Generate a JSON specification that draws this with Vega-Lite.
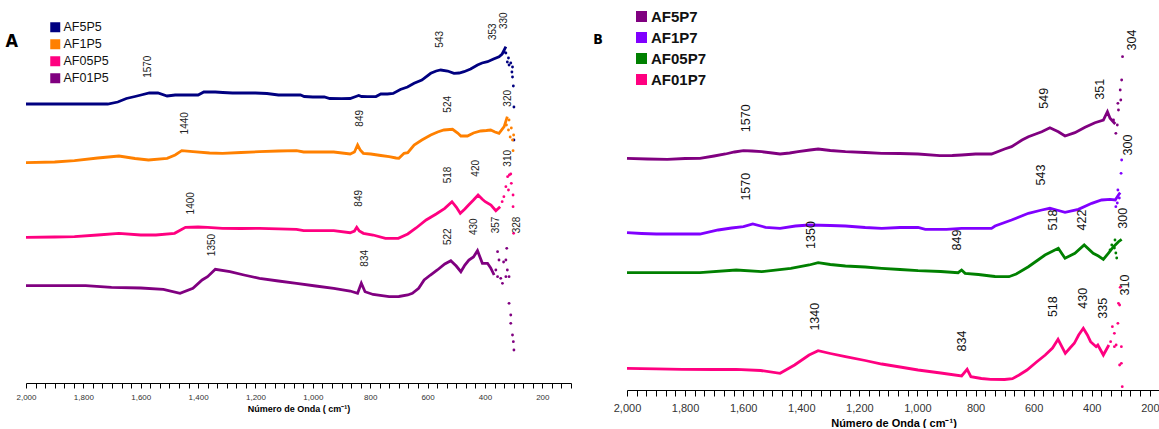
{
  "$schema": "https://vega.github.io/schema/vega-lite/v6.json",
  "padding": {"left": 5, "top": 0, "right": 0, "bottom": 0},
  "spacing": 21,
  "config": {"view": {"stroke": null}, "font": "Liberation Sans"},
  "resolve": {"scale": {"color": "independent", "x": "independent", "y": "independent"}, "legend": {"color": "independent"}},
  "datasets": {
    "A_trace": [
      {"sample":"AF5P5","wn":2000,"abs":279},{"sample":"AF5P5","wn":1900,"abs":279},{"sample":"AF5P5","wn":1800,"abs":279},{"sample":"AF5P5","wn":1715,"abs":279},{"sample":"AF5P5","wn":1680,"abs":281},{"sample":"AF5P5","wn":1650,"abs":284.5},{"sample":"AF5P5","wn":1620,"abs":286.5},{"sample":"AF5P5","wn":1599,"abs":288},{"sample":"AF5P5","wn":1570,"abs":290},{"sample":"AF5P5","wn":1540,"abs":290},{"sample":"AF5P5","wn":1508,"abs":287},{"sample":"AF5P5","wn":1480,"abs":288},{"sample":"AF5P5","wn":1440,"abs":288},{"sample":"AF5P5","wn":1400,"abs":288},{"sample":"AF5P5","wn":1380,"abs":291},{"sample":"AF5P5","wn":1340,"abs":291},{"sample":"AF5P5","wn":1314,"abs":290.5},{"sample":"AF5P5","wn":1280,"abs":290},{"sample":"AF5P5","wn":1240,"abs":290},{"sample":"AF5P5","wn":1200,"abs":290},{"sample":"AF5P5","wn":1160,"abs":289.5},{"sample":"AF5P5","wn":1120,"abs":288},{"sample":"AF5P5","wn":1080,"abs":288},{"sample":"AF5P5","wn":1043,"abs":288},{"sample":"AF5P5","wn":1030,"abs":286.5},{"sample":"AF5P5","wn":1000,"abs":286},{"sample":"AF5P5","wn":960,"abs":286},{"sample":"AF5P5","wn":941,"abs":284.5},{"sample":"AF5P5","wn":900,"abs":284.3},{"sample":"AF5P5","wn":870,"abs":284.5},{"sample":"AF5P5","wn":850,"abs":286.5},{"sample":"AF5P5","wn":840,"abs":287.5},{"sample":"AF5P5","wn":830,"abs":286.5},{"sample":"AF5P5","wn":810,"abs":286.3},{"sample":"AF5P5","wn":780,"abs":286.5},{"sample":"AF5P5","wn":763,"abs":289},{"sample":"AF5P5","wn":740,"abs":289},{"sample":"AF5P5","wn":720,"abs":289.5},{"sample":"AF5P5","wn":695,"abs":293.5},{"sample":"AF5P5","wn":670,"abs":296},{"sample":"AF5P5","wn":647,"abs":299.7},{"sample":"AF5P5","wn":620,"abs":303},{"sample":"AF5P5","wn":589,"abs":309.7},{"sample":"AF5P5","wn":570,"abs":312},{"sample":"AF5P5","wn":554,"abs":313},{"sample":"AF5P5","wn":530,"abs":312},{"sample":"AF5P5","wn":508,"abs":309.7},{"sample":"AF5P5","wn":490,"abs":310},{"sample":"AF5P5","wn":473,"abs":311.3},{"sample":"AF5P5","wn":450,"abs":314},{"sample":"AF5P5","wn":426,"abs":318},{"sample":"AF5P5","wn":410,"abs":320},{"sample":"AF5P5","wn":391,"abs":321.3},{"sample":"AF5P5","wn":370,"abs":324},{"sample":"AF5P5","wn":351,"abs":326.3},{"sample":"AF5P5","wn":340,"abs":329},{"sample":"AF5P5","wn":327,"abs":336.3},
      {"sample":"AF1P5","wn":2000,"abs":220.3},{"sample":"AF1P5","wn":1900,"abs":221},{"sample":"AF1P5","wn":1831,"abs":222.3},{"sample":"AF1P5","wn":1750,"abs":225},{"sample":"AF1P5","wn":1676,"abs":227},{"sample":"AF1P5","wn":1620,"abs":224.5},{"sample":"AF1P5","wn":1573,"abs":223},{"sample":"AF1P5","wn":1508,"abs":224.7},{"sample":"AF1P5","wn":1480,"abs":228},{"sample":"AF1P5","wn":1457,"abs":232.3},{"sample":"AF1P5","wn":1418,"abs":231.3},{"sample":"AF1P5","wn":1360,"abs":230},{"sample":"AF1P5","wn":1315,"abs":229.7},{"sample":"AF1P5","wn":1250,"abs":230.5},{"sample":"AF1P5","wn":1186,"abs":231.3},{"sample":"AF1P5","wn":1120,"abs":232},{"sample":"AF1P5","wn":1057,"abs":232.3},{"sample":"AF1P5","wn":1032,"abs":231},{"sample":"AF1P5","wn":980,"abs":231},{"sample":"AF1P5","wn":927,"abs":231},{"sample":"AF1P5","wn":870,"abs":229},{"sample":"AF1P5","wn":855,"abs":231},{"sample":"AF1P5","wn":844,"abs":238},{"sample":"AF1P5","wn":835,"abs":233},{"sample":"AF1P5","wn":824,"abs":229.7},{"sample":"AF1P5","wn":798,"abs":229},{"sample":"AF1P5","wn":763,"abs":227.5},{"sample":"AF1P5","wn":734,"abs":226.3},{"sample":"AF1P5","wn":710,"abs":225},{"sample":"AF1P5","wn":700,"abs":224.7},{"sample":"AF1P5","wn":682,"abs":229.7},{"sample":"AF1P5","wn":669,"abs":230.3},{"sample":"AF1P5","wn":647,"abs":238},{"sample":"AF1P5","wn":620,"abs":243},{"sample":"AF1P5","wn":589,"abs":248},{"sample":"AF1P5","wn":565,"abs":251},{"sample":"AF1P5","wn":543,"abs":253},{"sample":"AF1P5","wn":513,"abs":253.7},{"sample":"AF1P5","wn":495,"abs":250},{"sample":"AF1P5","wn":484,"abs":247},{"sample":"AF1P5","wn":461,"abs":247},{"sample":"AF1P5","wn":440,"abs":250},{"sample":"AF1P5","wn":415,"abs":252},{"sample":"AF1P5","wn":395,"abs":252.5},{"sample":"AF1P5","wn":380,"abs":253},{"sample":"AF1P5","wn":365,"abs":251},{"sample":"AF1P5","wn":351,"abs":249.7},{"sample":"AF1P5","wn":333,"abs":256.3},{"sample":"AF1P5","wn":322,"abs":266.3},
      {"sample":"AF05P5","wn":2000,"abs":145.7},{"sample":"AF05P5","wn":1900,"abs":146},{"sample":"AF05P5","wn":1831,"abs":146.3},{"sample":"AF05P5","wn":1750,"abs":148},{"sample":"AF05P5","wn":1676,"abs":149.7},{"sample":"AF05P5","wn":1600,"abs":148},{"sample":"AF05P5","wn":1547,"abs":148},{"sample":"AF05P5","wn":1482,"abs":149.7},{"sample":"AF05P5","wn":1444,"abs":155.7},{"sample":"AF05P5","wn":1400,"abs":156},{"sample":"AF05P5","wn":1367,"abs":155.7},{"sample":"AF05P5","wn":1315,"abs":154.7},{"sample":"AF05P5","wn":1250,"abs":154.5},{"sample":"AF05P5","wn":1186,"abs":154.7},{"sample":"AF05P5","wn":1120,"abs":154.2},{"sample":"AF05P5","wn":1057,"abs":153.7},{"sample":"AF05P5","wn":1032,"abs":152.3},{"sample":"AF05P5","wn":980,"abs":152.3},{"sample":"AF05P5","wn":927,"abs":152.3},{"sample":"AF05P5","wn":870,"abs":150.3},{"sample":"AF05P5","wn":855,"abs":152},{"sample":"AF05P5","wn":847,"abs":155.7},{"sample":"AF05P5","wn":838,"abs":152},{"sample":"AF05P5","wn":824,"abs":149.7},{"sample":"AF05P5","wn":790,"abs":148},{"sample":"AF05P5","wn":747,"abs":144.7},{"sample":"AF05P5","wn":702,"abs":144.7},{"sample":"AF05P5","wn":669,"abs":149},{"sample":"AF05P5","wn":640,"abs":155},{"sample":"AF05P5","wn":605,"abs":163},{"sample":"AF05P5","wn":570,"abs":169},{"sample":"AF05P5","wn":540,"abs":174.7},{"sample":"AF05P5","wn":515,"abs":181.3},{"sample":"AF05P5","wn":500,"abs":176},{"sample":"AF05P5","wn":486,"abs":169.7},{"sample":"AF05P5","wn":470,"abs":174},{"sample":"AF05P5","wn":457,"abs":178},{"sample":"AF05P5","wn":440,"abs":183},{"sample":"AF05P5","wn":424,"abs":188},{"sample":"AF05P5","wn":410,"abs":184},{"sample":"AF05P5","wn":399,"abs":181.3},{"sample":"AF05P5","wn":379,"abs":178},{"sample":"AF05P5","wn":362,"abs":172.3},{"sample":"AF05P5","wn":347,"abs":176.3},
      {"sample":"AF01P5","wn":2000,"abs":97.3},{"sample":"AF01P5","wn":1900,"abs":97.3},{"sample":"AF01P5","wn":1792,"abs":97.3},{"sample":"AF01P5","wn":1702,"abs":95.7},{"sample":"AF01P5","wn":1600,"abs":95},{"sample":"AF01P5","wn":1521,"abs":93.7},{"sample":"AF01P5","wn":1463,"abs":89.7},{"sample":"AF01P5","wn":1418,"abs":94.7},{"sample":"AF01P5","wn":1386,"abs":103},{"sample":"AF01P5","wn":1367,"abs":106.3},{"sample":"AF01P5","wn":1340,"abs":113.7},{"sample":"AF01P5","wn":1289,"abs":111.3},{"sample":"AF01P5","wn":1240,"abs":108},{"sample":"AF01P5","wn":1186,"abs":104.7},{"sample":"AF01P5","wn":1120,"abs":102},{"sample":"AF01P5","wn":1057,"abs":99.7},{"sample":"AF01P5","wn":990,"abs":97},{"sample":"AF01P5","wn":927,"abs":94.7},{"sample":"AF01P5","wn":870,"abs":92},{"sample":"AF01P5","wn":844,"abs":89.7},{"sample":"AF01P5","wn":831,"abs":99.7},{"sample":"AF01P5","wn":818,"abs":91.3},{"sample":"AF01P5","wn":790,"abs":88.5},{"sample":"AF01P5","wn":734,"abs":86.3},{"sample":"AF01P5","wn":700,"abs":86.5},{"sample":"AF01P5","wn":669,"abs":88},{"sample":"AF01P5","wn":653,"abs":89.7},{"sample":"AF01P5","wn":631,"abs":94.7},{"sample":"AF01P5","wn":612,"abs":103},{"sample":"AF01P5","wn":590,"abs":108},{"sample":"AF01P5","wn":566,"abs":113},{"sample":"AF01P5","wn":540,"abs":119},{"sample":"AF01P5","wn":519,"abs":122.3},{"sample":"AF01P5","wn":500,"abs":117},{"sample":"AF01P5","wn":484,"abs":111.3},{"sample":"AF01P5","wn":470,"abs":118},{"sample":"AF01P5","wn":456,"abs":123},{"sample":"AF01P5","wn":440,"abs":126},{"sample":"AF01P5","wn":426,"abs":132.3},{"sample":"AF01P5","wn":409,"abs":119.7},{"sample":"AF01P5","wn":391,"abs":119.7},{"sample":"AF01P5","wn":380,"abs":115},{"sample":"AF01P5","wn":368,"abs":108}
    ],
    "A_scatter": [
      {"sample":"AF5P5","wn":333,"abs":331},{"sample":"AF5P5","wn":327,"abs":330},{"sample":"AF5P5","wn":322,"abs":321},{"sample":"AF5P5","wn":318,"abs":325},{"sample":"AF5P5","wn":316,"abs":318},{"sample":"AF5P5","wn":310,"abs":320},{"sample":"AF5P5","wn":306,"abs":311},{"sample":"AF5P5","wn":304,"abs":306},{"sample":"AF5P5","wn":304,"abs":316},{"sample":"AF5P5","wn":301,"abs":297},{"sample":"AF5P5","wn":299,"abs":276},{"sample":"AF5P5","wn":299,"abs":243},
      {"sample":"AF1P5","wn":325,"abs":258},{"sample":"AF1P5","wn":318,"abs":253},{"sample":"AF1P5","wn":316,"abs":263},{"sample":"AF1P5","wn":312,"abs":246},{"sample":"AF1P5","wn":308,"abs":255},{"sample":"AF1P5","wn":304,"abs":243},{"sample":"AF1P5","wn":302,"abs":232.3},{"sample":"AF1P5","wn":300,"abs":248},
      {"sample":"AF05P5","wn":340,"abs":181.3},{"sample":"AF05P5","wn":334,"abs":186.3},{"sample":"AF05P5","wn":327,"abs":196.3},{"sample":"AF05P5","wn":321,"abs":206.3},{"sample":"AF05P5","wn":315,"abs":208},{"sample":"AF05P5","wn":308,"abs":199.7},{"sample":"AF05P5","wn":302,"abs":188},{"sample":"AF05P5","wn":302,"abs":176.3},{"sample":"AF05P5","wn":300,"abs":149.7},{"sample":"AF05P5","wn":318,"abs":193},{"sample":"AF05P5","wn":310,"abs":209},
      {"sample":"AF01P5","wn":362,"abs":113},{"sample":"AF01P5","wn":356,"abs":131.3},{"sample":"AF01P5","wn":351,"abs":123},{"sample":"AF01P5","wn":356,"abs":106.3},{"sample":"AF01P5","wn":345,"abs":104.7},{"sample":"AF01P5","wn":339,"abs":99.7},{"sample":"AF01P5","wn":327,"abs":106.3},{"sample":"AF01P5","wn":327,"abs":123},{"sample":"AF01P5","wn":324,"abs":134.7},{"sample":"AF01P5","wn":322,"abs":113},{"sample":"AF01P5","wn":316,"abs":106.3},{"sample":"AF01P5","wn":316,"abs":79.7},{"sample":"AF01P5","wn":310,"abs":68},{"sample":"AF01P5","wn":310,"abs":59.7},{"sample":"AF01P5","wn":304,"abs":48},{"sample":"AF01P5","wn":301,"abs":41.3},{"sample":"AF01P5","wn":299,"abs":33},{"sample":"AF01P5","wn":335,"abs":121}
    ],
    "A_labels": [
      {"wn":1575,"abs":316.3,"label":"1570"},{"wn":557,"abs":343.7,"label":"543"},{"wn":373,"abs":351.3,"label":"353"},{"wn":334,"abs":362.3,"label":"330"},
      {"wn":1447,"abs":259.7,"label":"1440"},{"wn":837,"abs":264.7,"label":"849"},{"wn":530,"abs":278.7,"label":"524"},{"wn":321,"abs":284.7,"label":"320"},
      {"wn":321,"abs":224.7,"label":"310"},{"wn":528,"abs":208,"label":"518"},{"wn":431,"abs":214.7,"label":"420"},{"wn":1424,"abs":179.7,"label":"1400"},{"wn":840,"abs":184.7,"label":"849"},
      {"wn":530,"abs":146.3,"label":"522"},{"wn":437,"abs":156.3,"label":"430"},{"wn":360,"abs":158,"label":"357"},{"wn":289,"abs":158,"label":"328"},{"wn":1353,"abs":138,"label":"1350"},{"wn":818,"abs":124.7,"label":"834"}
    ],
    "B_trace": [
      {"sample":"AF5P7","wn":2000,"abs":231.7},{"sample":"AF5P7","wn":1930,"abs":231},{"sample":"AF5P7","wn":1861,"abs":230.7},{"sample":"AF5P7","wn":1800,"abs":231.5},{"sample":"AF5P7","wn":1749,"abs":231.7},{"sample":"AF5P7","wn":1700,"abs":234},{"sample":"AF5P7","wn":1661,"abs":236},{"sample":"AF5P7","wn":1630,"abs":238},{"sample":"AF5P7","wn":1599,"abs":239.3},{"sample":"AF5P7","wn":1570,"abs":239},{"sample":"AF5P7","wn":1536,"abs":238.3},{"sample":"AF5P7","wn":1500,"abs":237},{"sample":"AF5P7","wn":1473,"abs":236},{"sample":"AF5P7","wn":1440,"abs":237},{"sample":"AF5P7","wn":1411,"abs":238.3},{"sample":"AF5P7","wn":1370,"abs":240},{"sample":"AF5P7","wn":1342,"abs":241},{"sample":"AF5P7","wn":1300,"abs":239.5},{"sample":"AF5P7","wn":1248,"abs":238.3},{"sample":"AF5P7","wn":1180,"abs":237.5},{"sample":"AF5P7","wn":1123,"abs":236.7},{"sample":"AF5P7","wn":1060,"abs":236.5},{"sample":"AF5P7","wn":998,"abs":236},{"sample":"AF5P7","wn":923,"abs":234.3},{"sample":"AF5P7","wn":880,"abs":234.5},{"sample":"AF5P7","wn":848,"abs":235},{"sample":"AF5P7","wn":800,"abs":236},{"sample":"AF5P7","wn":745,"abs":236},{"sample":"AF5P7","wn":700,"abs":241},{"sample":"AF5P7","wn":676,"abs":243.3},{"sample":"AF5P7","wn":640,"abs":250},{"sample":"AF5P7","wn":618,"abs":253.3},{"sample":"AF5P7","wn":572,"abs":258.3},{"sample":"AF5P7","wn":544,"abs":262.3},{"sample":"AF5P7","wn":515,"abs":258.3},{"sample":"AF5P7","wn":492,"abs":254},{"sample":"AF5P7","wn":458,"abs":257.3},{"sample":"AF5P7","wn":423,"abs":262.7},{"sample":"AF5P7","wn":389,"abs":267.3},{"sample":"AF5P7","wn":360,"abs":270},{"sample":"AF5P7","wn":346,"abs":278.3},{"sample":"AF5P7","wn":337,"abs":271.7},{"sample":"AF5P7","wn":319,"abs":266},
      {"sample":"AF1P7","wn":2000,"abs":157.3},{"sample":"AF1P7","wn":1950,"abs":156.5},{"sample":"AF1P7","wn":1899,"abs":156},{"sample":"AF1P7","wn":1800,"abs":156},{"sample":"AF1P7","wn":1749,"abs":156},{"sample":"AF1P7","wn":1686,"abs":160},{"sample":"AF1P7","wn":1640,"abs":162},{"sample":"AF1P7","wn":1599,"abs":163.3},{"sample":"AF1P7","wn":1567,"abs":166},{"sample":"AF1P7","wn":1523,"abs":162.7},{"sample":"AF1P7","wn":1473,"abs":161.7},{"sample":"AF1P7","wn":1420,"abs":164},{"sample":"AF1P7","wn":1373,"abs":165},{"sample":"AF1P7","wn":1300,"abs":164.5},{"sample":"AF1P7","wn":1248,"abs":164},{"sample":"AF1P7","wn":1180,"abs":162.5},{"sample":"AF1P7","wn":1123,"abs":161.7},{"sample":"AF1P7","wn":1060,"abs":162.5},{"sample":"AF1P7","wn":998,"abs":162.7},{"sample":"AF1P7","wn":973,"abs":160.7},{"sample":"AF1P7","wn":900,"abs":160.7},{"sample":"AF1P7","wn":848,"abs":161.7},{"sample":"AF1P7","wn":800,"abs":161.7},{"sample":"AF1P7","wn":745,"abs":161.7},{"sample":"AF1P7","wn":733,"abs":164},{"sample":"AF1P7","wn":676,"abs":170},{"sample":"AF1P7","wn":618,"abs":176.7},{"sample":"AF1P7","wn":572,"abs":180},{"sample":"AF1P7","wn":544,"abs":181.7},{"sample":"AF1P7","wn":521,"abs":180},{"sample":"AF1P7","wn":492,"abs":177.7},{"sample":"AF1P7","wn":446,"abs":180.7},{"sample":"AF1P7","wn":400,"abs":186.7},{"sample":"AF1P7","wn":366,"abs":190},{"sample":"AF1P7","wn":337,"abs":190.7},{"sample":"AF1P7","wn":319,"abs":190},{"sample":"AF1P7","wn":308,"abs":195},{"sample":"AF1P7","wn":302,"abs":197.3},
      {"sample":"AF05P7","wn":2000,"abs":117.3},{"sample":"AF05P7","wn":1880,"abs":117.3},{"sample":"AF05P7","wn":1749,"abs":117.3},{"sample":"AF05P7","wn":1624,"abs":120},{"sample":"AF05P7","wn":1536,"abs":118.3},{"sample":"AF05P7","wn":1436,"abs":121.7},{"sample":"AF05P7","wn":1373,"abs":125},{"sample":"AF05P7","wn":1342,"abs":127.3},{"sample":"AF05P7","wn":1300,"abs":125.5},{"sample":"AF05P7","wn":1248,"abs":124},{"sample":"AF05P7","wn":1180,"abs":123},{"sample":"AF05P7","wn":1123,"abs":121.7},{"sample":"AF05P7","wn":1060,"abs":120.5},{"sample":"AF05P7","wn":998,"abs":119.3},{"sample":"AF05P7","wn":920,"abs":118.5},{"sample":"AF05P7","wn":860,"abs":117.3},{"sample":"AF05P7","wn":848,"abs":120},{"sample":"AF05P7","wn":836,"abs":116.7},{"sample":"AF05P7","wn":790,"abs":115.5},{"sample":"AF05P7","wn":748,"abs":114},{"sample":"AF05P7","wn":733,"abs":113.5},{"sample":"AF05P7","wn":685,"abs":113.3},{"sample":"AF05P7","wn":660,"abs":116},{"sample":"AF05P7","wn":618,"abs":123.3},{"sample":"AF05P7","wn":590,"abs":129},{"sample":"AF05P7","wn":561,"abs":135},{"sample":"AF05P7","wn":515,"abs":141.7},{"sample":"AF05P7","wn":492,"abs":131.7},{"sample":"AF05P7","wn":458,"abs":136.7},{"sample":"AF05P7","wn":426,"abs":145},{"sample":"AF05P7","wn":395,"abs":136.7},{"sample":"AF05P7","wn":377,"abs":134},{"sample":"AF05P7","wn":360,"abs":130.7},{"sample":"AF05P7","wn":343,"abs":136.7},{"sample":"AF05P7","wn":325,"abs":143.3},{"sample":"AF05P7","wn":308,"abs":148.3},{"sample":"AF05P7","wn":297,"abs":150.7},
      {"sample":"AF01P7","wn":2000,"abs":21.7},{"sample":"AF01P7","wn":1900,"abs":21.2},{"sample":"AF01P7","wn":1811,"abs":20.7},{"sample":"AF01P7","wn":1700,"abs":20.5},{"sample":"AF01P7","wn":1624,"abs":20.7},{"sample":"AF01P7","wn":1540,"abs":19.5},{"sample":"AF01P7","wn":1473,"abs":16.7},{"sample":"AF01P7","wn":1423,"abs":25},{"sample":"AF01P7","wn":1373,"abs":35},{"sample":"AF01P7","wn":1342,"abs":39.3},{"sample":"AF01P7","wn":1300,"abs":36.5},{"sample":"AF01P7","wn":1248,"abs":33.3},{"sample":"AF01P7","wn":1180,"abs":29.5},{"sample":"AF01P7","wn":1123,"abs":26},{"sample":"AF01P7","wn":1060,"abs":23},{"sample":"AF01P7","wn":998,"abs":20},{"sample":"AF01P7","wn":920,"abs":17},{"sample":"AF01P7","wn":848,"abs":14},{"sample":"AF01P7","wn":829,"abs":20.7},{"sample":"AF01P7","wn":816,"abs":13.3},{"sample":"AF01P7","wn":780,"abs":11.5},{"sample":"AF01P7","wn":748,"abs":10.7},{"sample":"AF01P7","wn":700,"abs":10.5},{"sample":"AF01P7","wn":673,"abs":11.3},{"sample":"AF01P7","wn":650,"abs":15},{"sample":"AF01P7","wn":623,"abs":20},{"sample":"AF01P7","wn":590,"abs":28},{"sample":"AF01P7","wn":560,"abs":35},{"sample":"AF01P7","wn":535,"abs":42},{"sample":"AF01P7","wn":516,"abs":50.7},{"sample":"AF01P7","wn":491,"abs":36.7},{"sample":"AF01P7","wn":475,"abs":42},{"sample":"AF01P7","wn":460,"abs":46.7},{"sample":"AF01P7","wn":445,"abs":55},{"sample":"AF01P7","wn":429,"abs":61.7},{"sample":"AF01P7","wn":415,"abs":55},{"sample":"AF01P7","wn":404,"abs":48.3},{"sample":"AF01P7","wn":385,"abs":43.3},{"sample":"AF01P7","wn":379,"abs":45},{"sample":"AF01P7","wn":360,"abs":35},{"sample":"AF01P7","wn":341,"abs":45}
    ],
    "B_scatter": [
      {"sample":"AF5P7","wn":325,"abs":270},{"sample":"AF5P7","wn":317,"abs":256.7},{"sample":"AF5P7","wn":308,"abs":280},{"sample":"AF5P7","wn":310,"abs":286.7},{"sample":"AF5P7","wn":302,"abs":300},{"sample":"AF5P7","wn":297,"abs":310},{"sample":"AF5P7","wn":294,"abs":333.3},{"sample":"AF5P7","wn":312,"abs":265},{"sample":"AF5P7","wn":300,"abs":290},
      {"sample":"AF1P7","wn":317,"abs":183.3},{"sample":"AF1P7","wn":312,"abs":187},{"sample":"AF1P7","wn":305,"abs":192},{"sample":"AF1P7","wn":299,"abs":216.7},{"sample":"AF1P7","wn":297,"abs":230},{"sample":"AF1P7","wn":310,"abs":200},
      {"sample":"AF05P7","wn":337,"abs":140},{"sample":"AF05P7","wn":331,"abs":145},{"sample":"AF05P7","wn":322,"abs":142},{"sample":"AF05P7","wn":317,"abs":137},{"sample":"AF05P7","wn":314,"abs":132},{"sample":"AF05P7","wn":320,"abs":150},
      {"sample":"AF01P7","wn":335,"abs":48.3},{"sample":"AF01P7","wn":329,"abs":63.3},{"sample":"AF01P7","wn":322,"abs":56.7},{"sample":"AF01P7","wn":322,"abs":43.3},{"sample":"AF01P7","wn":316,"abs":45},{"sample":"AF01P7","wn":310,"abs":66.7},{"sample":"AF01P7","wn":304,"abs":85},{"sample":"AF01P7","wn":304,"abs":25},{"sample":"AF01P7","wn":298,"abs":43.3},{"sample":"AF01P7","wn":295,"abs":3.3},{"sample":"AF01P7","wn":302,"abs":102.7},{"sample":"AF01P7","wn":308,"abs":86.7},{"sample":"AF01P7","wn":298,"abs":26.7}
    ],
    "B_labels": [
      {"wn":262,"abs":350,"label":"304"},{"wn":563,"abs":291.7,"label":"549"},{"wn":370,"abs":300.7,"label":"351"},{"wn":1592,"abs":271.7,"label":"1570"},
      {"wn":275,"abs":245,"label":"300"},{"wn":1592,"abs":203.3,"label":"1570"},{"wn":573,"abs":215,"label":"543"},
      {"wn":291,"abs":171.7,"label":"300"},{"wn":535,"abs":170,"label":"518"},{"wn":432,"abs":170,"label":"422"},{"wn":1367,"abs":155,"label":"1350"},{"wn":863,"abs":150,"label":"849"},
      {"wn":1352,"abs":73.3,"label":"1340"},{"wn":846,"abs":49,"label":"834"},{"wn":533,"abs":83.3,"label":"518"},{"wn":429,"abs":91.7,"label":"430"},{"wn":360,"abs":81.7,"label":"335"},{"wn":285,"abs":105,"label":"310"}
    ]
  },
  "hconcat": [
    {
      "width": 545,
      "height": 383,
      "encoding": {
        "x": {
          "field": "wn", "type": "quantitative",
          "scale": {"domain": [100, 2000], "reverse": true, "nice": false, "zero": false},
          "axis": {
            "title": "Número de Onda ( cm⁻¹)",
            "values": [100,133.33,166.67,200,233.33,266.67,300,333.33,366.67,400,433.33,466.67,500,533.33,566.67,600,633.33,666.67,700,733.33,766.67,800,833.33,866.67,900,933.33,966.67,1000,1033.33,1066.67,1100,1133.33,1166.67,1200,1233.33,1266.67,1300,1333.33,1366.67,1400,1433.33,1466.67,1500,1533.33,1566.67,1600,1633.33,1666.67,1700,1733.33,1766.67,1800,1833.33,1866.67,1900,1933.33,1966.67,2000],
            "labelExpr": "datum.value % 200 == 0 ? format(datum.value, ',') : ''",
            "labelFlush": false, "labelOverlap": false,
            "labelFontSize": 8, "labelColor": "#333", "labelPadding": 5, "labelFont": "Liberation Sans",
            "tickSize": 5, "tickColor": "#000", "domainColor": "#000", "grid": false,
            "titleFontSize": 9, "titleFontWeight": "bold", "titlePadding": 3, "titleColor": "#000", "titleFont": "Liberation Sans"
          }
        },
        "y": {"field": "abs", "type": "quantitative", "scale": {"domain": [0, 383], "nice": false, "zero": false}, "axis": null}
      },
      "layer": [
        {
          "data": {"name": "A_scatter"},
          "mark": {"type": "point", "filled": true, "size": 8, "opacity": 1},
          "encoding": {
            "color": {
              "field": "sample", "type": "nominal",
              "scale": {"domain": ["AF5P5", "AF1P5", "AF05P5", "AF01P5"], "range": ["#000080", "#FF8000", "#FF0080", "#800080"]},
              "legend": {"title": null, "orient": "none", "legendX": 23, "legendY": 21, "symbolType": "square", "symbolSize": 100, "symbolStrokeWidth": 0, "symbolOpacity": 1, "labelFontSize": 12.5, "labelFontWeight": "normal", "labelFont": "Liberation Sans", "labelColor": "#111", "labelOffset": 2, "rowPadding": 4}
            }
          }
        },
        {
          "data": {"name": "A_trace"},
          "mark": {"type": "line", "strokeWidth": 2.8},
          "encoding": {"color": {"field": "sample", "type": "nominal"}}
        },
        {
          "data": {"name": "A_labels"},
          "mark": {"type": "text", "angle": 270, "fontSize": 10, "color": "#222", "font": "Liberation Sans"},
          "encoding": {"text": {"field": "label", "type": "nominal"}}
        },
        {
          "data": {"values": [{"wn": 2050, "abs": 341.3, "label": "A"}]},
          "mark": {"type": "text", "fontSize": 18, "fontWeight": "bold", "font": "DejaVu Sans Condensed", "color": "#000"},
          "encoding": {"text": {"field": "label", "type": "nominal"}}
        }
      ]
    },
    {
      "width": 533,
      "height": 390,
      "encoding": {
        "x": {
          "field": "wn", "type": "quantitative",
          "scale": {"domain": [165, 2000], "reverse": true, "nice": false, "zero": false},
          "axis": {
            "title": "Número de Onda ( cm⁻¹)",
            "values": [166.67,200,233.33,266.67,300,333.33,366.67,400,433.33,466.67,500,533.33,566.67,600,633.33,666.67,700,733.33,766.67,800,833.33,866.67,900,933.33,966.67,1000,1033.33,1066.67,1100,1133.33,1166.67,1200,1233.33,1266.67,1300,1333.33,1366.67,1400,1433.33,1466.67,1500,1533.33,1566.67,1600,1633.33,1666.67,1700,1733.33,1766.67,1800,1833.33,1866.67,1900,1933.33,1966.67,2000],
            "labelExpr": "datum.value % 200 == 0 ? format(datum.value, ',') : ''",
            "labelFlush": false, "labelOverlap": false,
            "labelFontSize": 11, "labelColor": "#333", "labelPadding": 6, "labelFont": "Liberation Sans",
            "tickSize": 6, "tickColor": "#000", "domainColor": "#000", "grid": false,
            "titleFontSize": 11, "titleFontWeight": "bold", "titlePadding": 4, "titleColor": "#000", "titleFont": "Liberation Sans"
          }
        },
        "y": {"field": "abs", "type": "quantitative", "scale": {"domain": [0, 390], "nice": false, "zero": false}, "axis": null}
      },
      "layer": [
        {
          "data": {"name": "B_scatter"},
          "mark": {"type": "point", "filled": true, "size": 8, "opacity": 1},
          "encoding": {
            "color": {
              "field": "sample", "type": "nominal",
              "scale": {"domain": ["AF5P7", "AF1P7", "AF05P7", "AF01P7"], "range": ["#800080", "#8000FF", "#008000", "#FF0080"]},
              "legend": {"title": null, "orient": "none", "legendX": 7, "legendY": 9, "symbolType": "square", "symbolSize": 121, "symbolStrokeWidth": 0, "symbolOpacity": 1, "labelFontSize": 15, "labelFontWeight": "bold", "labelFont": "Liberation Sans", "labelColor": "#111", "labelOffset": 2, "rowPadding": 5}
            }
          }
        },
        {
          "data": {"name": "B_trace"},
          "mark": {"type": "line", "strokeWidth": 2.8},
          "encoding": {"color": {"field": "sample", "type": "nominal"}}
        },
        {
          "data": {"name": "B_labels"},
          "mark": {"type": "text", "angle": 270, "fontSize": 12.5, "color": "#111", "font": "Liberation Sans"},
          "encoding": {"text": {"field": "label", "type": "nominal"}}
        },
        {
          "data": {"values": [{"wn": 2100, "abs": 350, "label": "B"}]},
          "mark": {"type": "text", "fontSize": 14, "fontWeight": "bold", "font": "DejaVu Sans Condensed", "color": "#000"},
          "encoding": {"text": {"field": "label", "type": "nominal"}}
        }
      ]
    }
  ]
}
